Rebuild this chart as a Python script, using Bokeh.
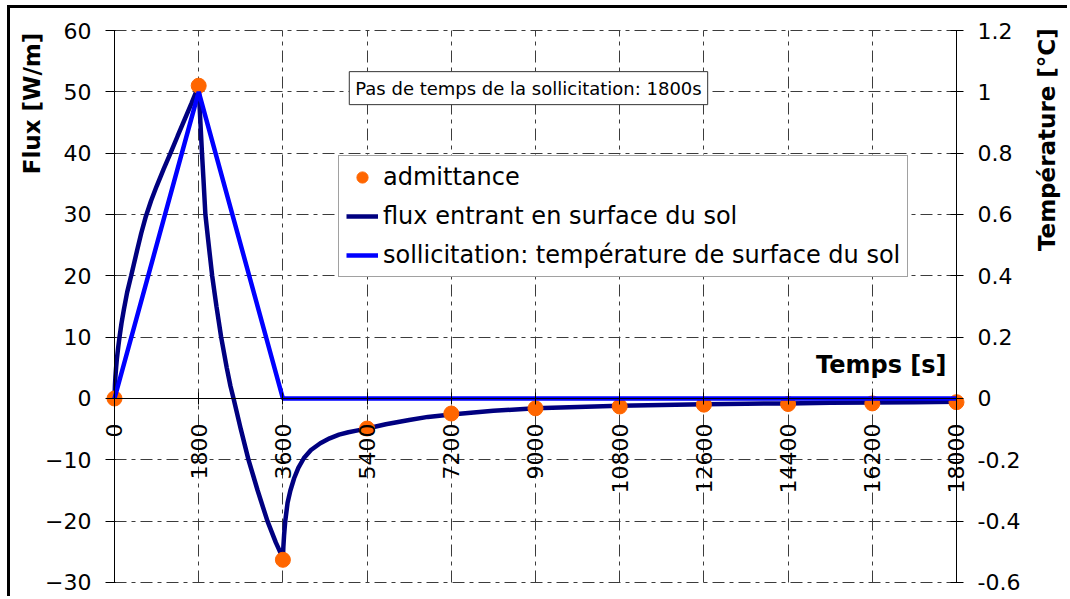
import math
from bokeh.plotting import figure
from bokeh.models import (LinearAxis, Range1d, FixedTicker, Grid, Legend, LegendItem,
                          Label, CustomJSTickFormatter)
from bokeh.embed import file_html
from bokeh.resources import INLINE

FONT = "DejaVu Sans"

# ---- data ----
x_ticks = [0, 1800, 3600, 5400, 7200, 9000, 10800, 12600, 14400, 16200, 18000]
flux_ticks = [-30, -20, -10, 0, 10, 20, 30, 40, 50, 60]
temp_ticks = [-0.6, -0.4, -0.2, 0.0, 0.2, 0.4, 0.6, 0.8, 1.0, 1.2]

# admittance points (W/m) at every time step
adm_t = [0, 1800, 3600, 5400, 7200, 9000, 10800, 12600, 14400, 16200, 18000]
adm_flux = [0, 51, -26.3, -4.9, -2.45, -1.6, -1.3, -1.0, -0.9, -0.8, -0.6]

# flux entrant en surface du sol (W/m)
flux_t = [0, 10, 20, 35, 50, 80, 107, 150, 200, 270, 356, 420, 485, 570, 663, 780, 900,
          1050, 1197, 1350, 1500, 1650, 1800,
          1815, 1830, 1850, 1870, 1900, 1943, 2000, 2088, 2180, 2280, 2400, 2480,
          2545, 2700, 2865, 3060, 3270, 3450, 3600,
          3610, 3625, 3650, 3700, 3760, 3840, 3930, 4050, 4200, 4400, 4600, 4800,
          5000, 5200, 5400,
          5800, 6300, 6700, 7200, 8100, 9000, 9900, 10800, 11700, 12600,
          13500, 14400, 15300, 16200, 17100, 18000]
flux_val = [0, 2.2, 3.6, 5.1, 6.4, 8.4, 10, 12.3, 14.5, 17.3, 20, 22.1, 24.2, 26.9, 29.5, 32.2, 34.6,
            37.4, 40, 42.8, 45.5, 48.2, 51,
            48.5, 46, 43, 40, 36, 30, 26, 20, 15, 10, 5, 2,
            0, -5, -10, -15, -20, -23.5, -26,
            -24.2, -22.3, -20, -17, -15, -13, -11.3, -9.7, -8.4, -7.3, -6.5, -5.9,
            -5.5, -5.2, -4.9,
            -4.2, -3.5, -3.0, -2.6, -2.0, -1.6, -1.4, -1.2, -1.05, -0.95,
            -0.85, -0.8, -0.7, -0.65, -0.6, -0.55]

# sollicitation: température de surface du sol (°C)
sol_t = [0, 1800, 3600, 18000]
sol_temp = [0, 1, 0, 0]

# ---- figure (frame fills the whole canvas; axes are placed at fixed locations) ----
p = figure(width=1060, height=591,
           x_range=Range1d(-2223.3, 20437.1), y_range=Range1d(-32.772, 63.587),
           x_axis_location=None, y_axis_location=None,
           output_backend="svg", toolbar_location=None,
           min_border_left=0, min_border_right=0,
           min_border_top=0, min_border_bottom=0)
p.extra_y_ranges = {"temp": Range1d(-32.772 / 50, 63.587 / 50)}
p.outline_line_color = None
p.background_fill_color = "white"
p.border_fill_color = "white"
p.styles = {"margin-left": "7px", "margin-top": "5px",
            "border-left": "3px solid black", "border-top": "3px solid black"}
p.center = [r for r in p.center if not isinstance(r, Grid)]

GRID_DASH = "12 5 4 5"
GRID_COLOR = "#3c3c3c"
p.add_layout(Grid(dimension=0, ticker=FixedTicker(ticks=x_ticks),
                  bounds=(0, 18000), cross_bounds=(-30, 60),
                  grid_line_color=GRID_COLOR, grid_line_dash=GRID_DASH, grid_line_width=1))
p.add_layout(Grid(dimension=1, ticker=FixedTicker(ticks=flux_ticks),
                  bounds=(-30, 60), cross_bounds=(0, 18000),
                  grid_line_color=GRID_COLOR, grid_line_dash=GRID_DASH, grid_line_width=1))

def style_axis(ax):
    ax.axis_line_color = "black"
    ax.axis_line_width = 1
    ax.major_tick_line_color = "black"
    ax.minor_tick_line_color = None
    ax.major_label_text_font = FONT
    ax.major_label_text_color = "black"

xaxis = LinearAxis(fixed_location=0, ticker=FixedTicker(ticks=x_ticks), bounds=(0, 18000))
style_axis(xaxis)
xaxis.major_label_orientation = math.pi / 2
xaxis.major_label_text_font_size = "22px"
xaxis.major_tick_in = 6
xaxis.major_tick_out = 6
xaxis.major_label_standoff = 19
p.add_layout(xaxis, "below")

yaxis = LinearAxis(fixed_location=0, ticker=FixedTicker(ticks=flux_ticks), bounds=(-30, 60))
style_axis(yaxis)
yaxis.major_label_text_font_size = "22px"
yaxis.major_tick_in = 1
yaxis.major_tick_out = 9
yaxis.major_label_standoff = 14
p.add_layout(yaxis, "left")

taxis = LinearAxis(fixed_location=18000, y_range_name="temp",
                   ticker=FixedTicker(ticks=temp_ticks), bounds=(-0.6, 1.2),
                   formatter=CustomJSTickFormatter(code="return String(Number(tick.toFixed(1)));"))
style_axis(taxis)
taxis.major_label_text_font_size = "22px"
taxis.major_tick_in = 6
taxis.major_tick_out = 7
taxis.major_label_standoff = 14
p.add_layout(taxis, "right")

# ---- glyphs ----
r_flux = p.line(flux_t, flux_val, line_color="#000080", line_width=4.5)
r_adm = p.scatter(adm_t, adm_flux, marker="circle", size=15,
                  fill_color="#FF6600", line_color="#FF6600")
r_sol = p.line(sol_t, sol_temp, y_range_name="temp", line_color="#0000FF", line_width=4.5)

legend = Legend(items=[LegendItem(label="admittance", renderers=[r_adm]),
                       LegendItem(label="flux entrant en surface du sol", renderers=[r_flux]),
                       LegendItem(label="sollicitation: température de surface du sol", renderers=[r_sol])],
                location=(328, 322), margin=0, padding=7, spacing=11,
                glyph_width=32, glyph_height=28, label_height=28, label_standoff=5,
                label_text_font=FONT, label_text_font_size="24px", label_text_color="black",
                border_line_color="#444444", border_line_width=1,
                background_fill_color="white", background_fill_alpha=1)
p.add_layout(legend, "center")

# ---- texts ----
p.add_layout(Label(x=8850, y=50.6, text="Pas de temps de la sollicitation: 1800s",
                   text_font=FONT, text_font_size="18px", text_color="black",
                   text_align="center", text_baseline="middle",
                   background_fill_color="white", border_line_color="#333333",
                   border_line_width=1, padding=6))
p.add_layout(Label(x=17829, y=5.4, text="Temps [s]", text_font=FONT,
                   text_font_size="24px", text_font_style="bold", text_color="black",
                   text_align="right", text_baseline="middle",
                   background_fill_color="white", padding=2))
p.add_layout(Label(x=-1774, y=48.1, text="Flux [W/m]", angle=math.pi / 2,
                   text_font=FONT, text_font_size="23px", text_font_style="bold",
                   text_color="black", text_align="center", text_baseline="middle"))
p.add_layout(Label(x=19945, y=42.2, text="Température [°C]", angle=math.pi / 2,
                   text_font=FONT, text_font_size="23px", text_font_style="bold",
                   text_color="black", text_align="center", text_baseline="middle"))

open("out.html", "w").write(file_html(p, INLINE))
